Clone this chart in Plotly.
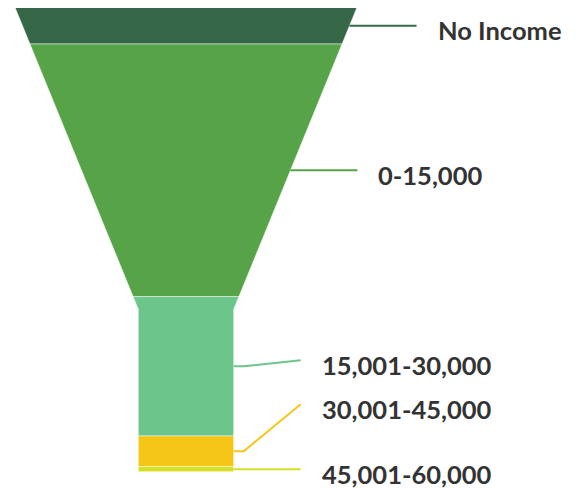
import plotly.graph_objects as go

# ---- data ----
categories = ["No Income", "0-15,000", "15,001-30,000", "30,001-45,000", "45,001-60,000"]
values = [7.9, 54.4, 30.0, 6.6, 1.1]
colors = ["#366848", "#56a447", "#6cc58a", "#f5c518", "#d6df24"]
label_shift = [0, 0, -6, -47, 0]  # vertical label displacement (collision avoidance)

# ---- funnel geometry (layout, in plot units = screen pixels) ----
W, H = 580, 488
OFF = 8  # page body margin
top_y, bot_y = 7.3, 471.7
cx = 186.0
top_half = 171.0
neck_half = 47.7
neck_y = 309.3


def half_w(y):
    if y <= neck_y:
        return top_half - (top_half - neck_half) * (y - top_y) / (neck_y - top_y)
    return neck_half


total = sum(values)
fig = go.Figure()
bounds = [top_y]
for v in values:
    bounds.append(bounds[-1] + v / total * (bot_y - top_y))

for i, (cat, col) in enumerate(zip(categories, colors)):
    y0, y1 = bounds[i], bounds[i + 1]
    ys = [y0] + ([neck_y] if y0 < neck_y < y1 else []) + [y1]
    xs_r = [cx + half_w(y) for y in ys]
    xs_l = [cx - half_w(y) for y in reversed(ys)]
    px = xs_r + xs_l + [xs_r[0]]
    py = ys + list(reversed(ys)) + [ys[0]]
    fig.add_trace(go.Scatter(x=px, y=py, fill="toself", fillcolor=col, mode="lines",
                             line=dict(color="rgba(255,255,255,0.6)", width=0.8),
                             hoverinfo="skip", showlegend=False))

# connectors + labels
for i, (cat, col) in enumerate(zip(categories, colors)):
    my = (bounds[i] + bounds[i + 1]) / 2
    ex = cx + half_w(my)
    ly = my + label_shift[i]
    fig.add_trace(go.Scatter(x=[ex, ex + 10, ex + 67], y=[my, my, ly], mode="lines",
                             line=dict(color=col, width=2), hoverinfo="skip",
                             showlegend=False))
    fig.add_annotation(x=ex + 86, y=ly + 4.5, text="<b>" + cat + "</b>", showarrow=False,
                       xanchor="left", yanchor="middle",
                       font=dict(family="Lato", size=25.5, color="#333333"))

fig.update_layout(width=W, height=H, margin=dict(l=0, r=0, t=0, b=0),
                  paper_bgcolor="white", plot_bgcolor="white",
                  xaxis=dict(range=[OFF, W + OFF], visible=False, fixedrange=True),
                  yaxis=dict(range=[H + OFF, OFF], visible=False, fixedrange=True),
                  hovermode=False)
fig.write_html("out.html")
